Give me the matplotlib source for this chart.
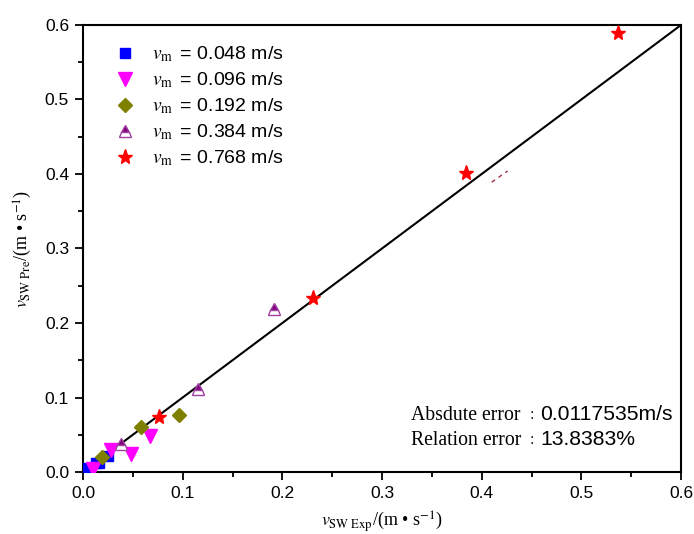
import matplotlib
matplotlib.use("Agg")
import matplotlib.pyplot as plt
from matplotlib.ticker import MultipleLocator

plt.rcParams['font.family'] = ['Liberation Sans', 'Noto Sans CJK SC', 'DejaVu Sans']
plt.rcParams['mathtext.fontset'] = 'stix'

# data (experimental, predicted)
sq_x = [0.003, 0.013, 0.016, 0.025]
sq_y = [0.006, 0.012, 0.012, 0.022]
dt_x = [0.010, 0.028, 0.048, 0.067]
dt_y = [0.004, 0.030, 0.024, 0.048]
di_x = [0.019, 0.058, 0.096]
di_y = [0.020, 0.061, 0.076]
tr_x = [0.038, 0.115, 0.192]
tr_y = [0.037, 0.111, 0.219]
st_x = [0.076, 0.231, 0.384, 0.537]
st_y = [0.074, 0.233, 0.401, 0.589]
labels = ['0.048', '0.096', '0.192', '0.384', '0.768']
fit_line = [0.0, 0.6]
dash_x = [0.410, 0.426]
dash_y = [0.389, 0.404]

fig = plt.figure(figsize=(6.94, 5.34), dpi=100)
ax = fig.add_axes([0.1196, 0.1161, 0.8617, 0.8371])

ax.plot(fit_line, fit_line, color='black', lw=1.5, zorder=1)
ax.plot(dash_x, dash_y, color='#a03040', lw=1.0, ls=(0, (3, 3)), zorder=1)

lab = [r'$\mathit{v}_{\mathrm{m}}\,$ = ' + v + ' m/s' for v in labels]
ax.plot(sq_x, sq_y, ls='none', marker='s', ms=7, color='#0000ff', label=lab[0], zorder=3)
ax.plot(dt_x, dt_y, ls='none', marker='v', ms=10, color='#ff00ff', label=lab[1], zorder=3)
ax.plot(di_x, di_y, ls='none', marker='D', ms=7.5, color='#808000', label=lab[2], zorder=3)
ax.plot(tr_x, tr_y, ls='none', marker='^', ms=9, color='#800080', fillstyle='top',
        markerfacecoloralt='white', markeredgecolor='#a040a0', markeredgewidth=1.0,
        label=lab[3], zorder=3)
ax.plot(st_x, st_y, ls='none', marker='*', ms=11, color='#ff0000', label=lab[4], zorder=3)

ax.set_xlim(0, 0.6)
ax.set_ylim(0, 0.6)
ax.xaxis.set_major_locator(MultipleLocator(0.1))
ax.yaxis.set_major_locator(MultipleLocator(0.1))
ax.xaxis.set_minor_locator(MultipleLocator(0.05))
ax.yaxis.set_minor_locator(MultipleLocator(0.05))
ax.tick_params(which='major', direction='out', length=6, width=1.3, labelsize=12.5, pad=4)
ax.tick_params(which='minor', direction='out', length=3.5, width=1.3)
ax.tick_params(top=False, right=False, which='both')
for s in ax.spines.values():
    s.set_linewidth(1.5)

ax.set_xlabel(r'$\mathit{v}_{\mathrm{SW\ Exp}}$/(m • s$^{\mathrm{-1}}$)',
              family=['Liberation Serif', 'DejaVu Serif'], fontsize=13, labelpad=6)
ax.set_ylabel(r'$\mathit{v}_{\mathrm{SW\ Pre}}$/(m • s$^{\mathrm{-1}}$)',
              family=['Liberation Serif', 'DejaVu Serif'], fontsize=13, labelpad=8)

leg = ax.legend(loc='upper left', bbox_to_anchor=(0.032, 0.982), frameon=False,
                fontsize=14, handletextpad=0.75, labelspacing=0.32, handlelength=1.2,
                borderaxespad=0.2)

t_kw = dict(transform=ax.transAxes, va='baseline')
ax.text(0.548, 0.117, 'Absdute error', family=['Liberation Serif'], fontsize=14.2, ha='left', **t_kw)
ax.text(0.750, 0.117, '：', family=['Noto Sans CJK TC'], fontsize=9, ha='center', **t_kw)
ax.text(0.764, 0.117, '0.0117535m/s', family=['Liberation Sans'], fontsize=15.2, ha='left', **t_kw)
ax.text(0.548, 0.061, 'Relation error', family=['Liberation Serif'], fontsize=14.2, ha='left', **t_kw)
ax.text(0.750, 0.061, '：', family=['Noto Sans CJK TC'], fontsize=9, ha='center', **t_kw)
ax.text(0.764, 0.061, '13.8383%', family=['Liberation Sans'], fontsize=15.2, ha='left', **t_kw)

fig.savefig('out.png', dpi=100)
